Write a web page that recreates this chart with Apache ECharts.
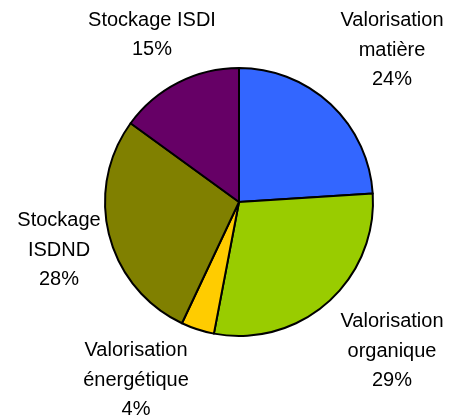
<!DOCTYPE html>
<html>
<head>
<meta charset="utf-8">
<script src="https://cdn.jsdelivr.net/npm/echarts@6/dist/echarts.min.js"></script>
<style>
  html, body { margin: 0; padding: 0; background: #fff; }
  #chart { width: 451px; height: 420px; }
</style>
</head>
<body>
<div id="chart"></div>
<script>
// catégories de déchets et parts (%)
var categories = ['Valorisation\nmatière', 'Valorisation\norganique', 'Valorisation\nénergétique', 'Stockage\nISDND', 'Stockage ISDI'];
var shares = [24, 29, 4, 28, 15];
var colors = ['#3366ff', '#99cc00', '#ffcc00', '#808000', '#660066'];

// position des étiquettes (centre du bloc de texte)
var labelPos = [[392, 50], [392, 351], [136, 380], [59, 250], [152, 35]];

var myChart = echarts.init(document.getElementById('chart'));
var option = {
    animation: false,
    color: colors,
    series: [
        {
            type: 'pie',
            center: [239, 202],
            radius: 134,
            startAngle: 90,
            clockwise: true,
            itemStyle: {
                borderColor: '#000',
                borderWidth: 2
            },
            label: {
                show: true,
                position: 'inner',
                overflow: 'none',
                color: '#000',
                fontFamily: '"Liberation Sans", Arial, sans-serif',
                fontSize: 20,
                lineHeight: 29.5,
                align: 'center',
                formatter: function (p) {
                    return p.name + '\n' + p.value + '%';
                }
            },
            labelLine: { show: false },
            labelLayout: function (params) {
                var p = labelPos[params.dataIndex];
                return { x: p[0], y: p[1], align: 'center', verticalAlign: 'middle' };
            },
            emphasis: { disabled: true },
            data: categories.map(function (c, i) {
                return { name: c, value: shares[i] };
            })
        }
    ]
};
myChart.setOption(option);
</script>
</body>
</html>
